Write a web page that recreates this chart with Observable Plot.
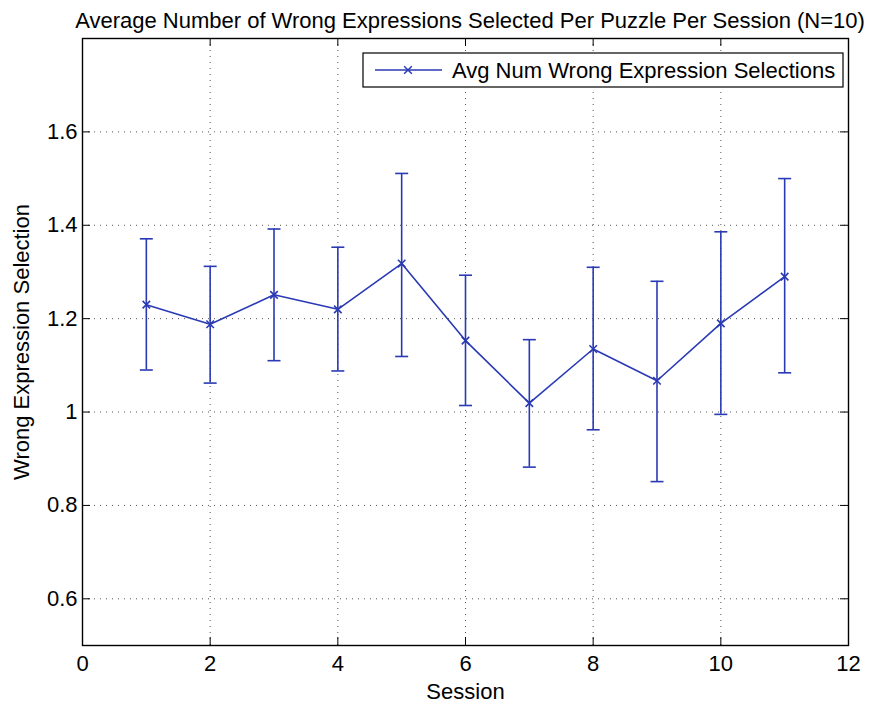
<!DOCTYPE html>
<html>
<head>
<meta charset="utf-8">
<script src="https://cdn.jsdelivr.net/npm/d3@7"></script>
<script src="https://cdn.jsdelivr.net/npm/@observablehq/plot@0.6"></script>
<style>
  html, body { margin: 0; padding: 0; background: #fff; }
  svg { display: block; }
</style>
</head>
<body>
<div id="chart"></div>
<script>
const sessions = [1, 2, 3, 4, 5, 6, 7, 8, 9, 10, 11];
const means = [1.23, 1.188, 1.251, 1.22, 1.318, 1.153, 1.019, 1.135, 1.067, 1.19, 1.29];
const upper = [1.371, 1.312, 1.392, 1.353, 1.511, 1.293, 1.155, 1.31, 1.28, 1.386, 1.50];
const lower = [1.09, 1.062, 1.11, 1.088, 1.119, 1.014, 0.882, 0.962, 0.851, 0.995, 1.084];
const xTicks = [0, 2, 4, 6, 8, 10, 12];
const yTicks = [0.6, 0.8, 1, 1.2, 1.4, 1.6];
const titleText = "Average Number of Wrong Expressions Selected Per Puzzle Per Session (N=10)";
const legendText = "Avg Num Wrong Expression Selections";

const data = sessions.map((s, i) => ({s, m: means[i], hi: upper[i], lo: lower[i]}));

const W = 870, H = 707;
const mt = 38, mb = 62, ml = 82, mr = 22;
const fw = W - ml - mr, fh = H - mt - mb;
const blue = "#2a3ab4";
const tickLen = 8;
const capHalf = 6.5;
const capSymbol = { draw(ctx) { ctx.moveTo(-capHalf, 0); ctx.lineTo(capHalf, 0); } };
const font = "'Liberation Sans', Arial, Helvetica, sans-serif";
const fs = 22;

const chart = Plot.plot({
  width: W, height: H,
  marginTop: mt, marginBottom: mb, marginLeft: ml, marginRight: mr,
  style: { fontFamily: font, background: "#fff", color: "#000" },
  x: { domain: [0, 12] },
  y: { domain: [0.5, 1.8] },
  marks: [
    Plot.gridX(xTicks.slice(1, -1), { stroke: "#444", strokeOpacity: 0.9, strokeDasharray: "1,5", strokeWidth: 1 }),
    Plot.gridY(yTicks, { stroke: "#444", strokeOpacity: 0.9, strokeDasharray: "1,5", strokeWidth: 1 }),
    Plot.tickX(xTicks, { x: d => d, insetTop: fh - tickLen, stroke: "#000" }),
    Plot.tickX(xTicks, { x: d => d, insetBottom: fh - tickLen, stroke: "#000" }),
    Plot.tickY(yTicks, { y: d => d, insetRight: fw - tickLen, stroke: "#000" }),
    Plot.tickY(yTicks, { y: d => d, insetLeft: fw - tickLen, stroke: "#000" }),
    Plot.axisX({ ticks: xTicks, tickSize: 0, tickPadding: 10, fontSize: fs,
      label: "Session", labelAnchor: "center", labelArrow: "none", labelOffset: 53 }),
    Plot.axisY({ ticks: yTicks, tickSize: 0, tickPadding: 5, fontSize: fs, tickFormat: d => String(d),
      label: "Wrong Expression Selection", labelAnchor: "center", labelArrow: "none", labelOffset: 69 }),
    Plot.ruleX(data, { x: "s", y1: "lo", y2: "hi", stroke: blue, strokeWidth: 1.6 }),
    Plot.dot(data, { x: "s", y: "hi", symbol: capSymbol, stroke: blue, fill: "none", strokeWidth: 1.6 }),
    Plot.dot(data, { x: "s", y: "lo", symbol: capSymbol, stroke: blue, fill: "none", strokeWidth: 1.6 }),
    Plot.line(data, { x: "s", y: "m", stroke: blue, strokeWidth: 1.6 }),
    Plot.dot(data, { x: "s", y: "m", symbol: "times", r: 3.5, stroke: blue, strokeWidth: 1.6 }),
    Plot.frame({ stroke: "#000", strokeWidth: 1.4 })
  ]
});

document.getElementById("chart").appendChild(chart);

const svg = d3.select(chart);
// Title
svg.append("text")
  .attr("x", 470).attr("y", 28)
  .attr("text-anchor", "middle")
  .attr("font-size", fs).attr("font-family", font).attr("fill", "#000")
  .text(titleText);

// Legend
const lg = svg.append("g");
lg.append("rect").attr("x", 363).attr("y", 53).attr("width", 480).attr("height", 34)
  .attr("fill", "#fff").attr("stroke", "#000").attr("stroke-width", 1.2);
lg.append("line").attr("x1", 375).attr("x2", 442).attr("y1", 70).attr("y2", 70)
  .attr("stroke", blue).attr("stroke-width", 1.5);
lg.append("path").attr("d", d3.symbol(d3.symbolTimes, 40)()).attr("transform", "translate(408,70)")
  .attr("stroke", blue).attr("stroke-width", 1.5).attr("fill", "none");
lg.append("text").attr("x", 452).attr("y", 78)
  .attr("text-anchor", "start")
  .attr("font-size", fs).attr("font-family", font).attr("fill", "#000")
  .text(legendText);
</script>
</body>
</html>
